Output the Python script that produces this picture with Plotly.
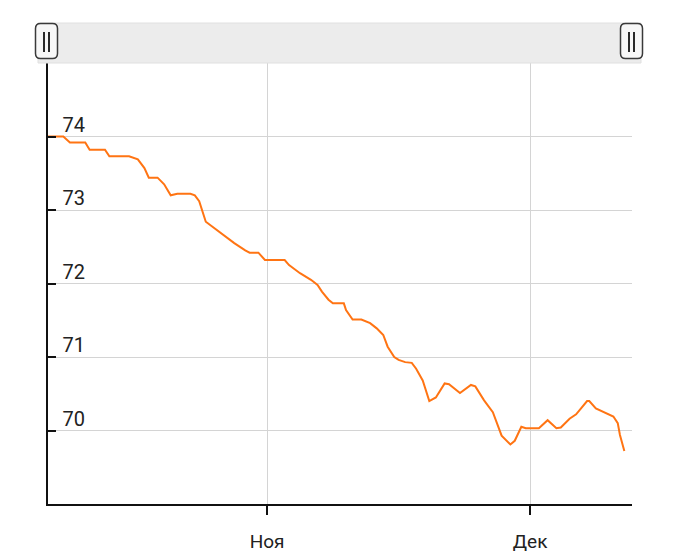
import plotly.graph_objects as go

dates = [
    "2021-10-07 00:00", "2021-10-08 18:00", "2021-10-09 12:00", "2021-10-11 06:00",
    "2021-10-11 18:00", "2021-10-13 12:00", "2021-10-14 00:00", "2021-10-16 06:00",
    "2021-10-17 06:00", "2021-10-18 00:00", "2021-10-18 12:00", "2021-10-19 12:00",
    "2021-10-20 06:00", "2021-10-21 00:00", "2021-10-21 18:00", "2021-10-23 06:00",
    "2021-10-23 18:00", "2021-10-24 06:00", "2021-10-25 00:00", "2021-10-26 00:00",
    "2021-10-27 06:00", "2021-10-28 06:00", "2021-10-29 12:00", "2021-10-30 00:00",
    "2021-10-31 00:00", "2021-10-31 18:00", "2021-11-03 00:00", "2021-11-03 12:00",
    "2021-11-04 18:00", "2021-11-06 00:00", "2021-11-06 18:00", "2021-11-07 06:00",
    "2021-11-08 00:00", "2021-11-08 12:00", "2021-11-09 18:00", "2021-11-10 00:00",
    "2021-11-10 18:00", "2021-11-11 18:00", "2021-11-12 18:00", "2021-11-13 12:00",
    "2021-11-14 06:00", "2021-11-14 18:00", "2021-11-15 12:00", "2021-11-16 00:00",
    "2021-11-16 18:00", "2021-11-17 12:00", "2021-11-18 00:00", "2021-11-18 18:00",
    "2021-11-19 12:00", "2021-11-20 06:00", "2021-11-21 06:00", "2021-11-21 18:00",
    "2021-11-23 00:00", "2021-11-24 06:00", "2021-11-24 18:00", "2021-11-25 18:00",
    "2021-11-26 18:00", "2021-11-27 18:00", "2021-11-28 18:00", "2021-11-29 06:00",
    "2021-11-30 00:00", "2021-11-30 12:00", "2021-12-02 00:00", "2021-12-03 00:00",
    "2021-12-04 00:00", "2021-12-04 12:00", "2021-12-05 12:00", "2021-12-06 06:00",
    "2021-12-07 12:00", "2021-12-07 18:00", "2021-12-08 12:00", "2021-12-10 00:00",
    "2021-12-10 12:00", "2021-12-11 00:00", "2021-12-11 06:00", "2021-12-11 18:00",
]
values = [
    74.00, 74.00, 73.92, 73.92,
    73.82, 73.82, 73.73, 73.73,
    73.69, 73.57, 73.44, 73.44,
    73.35, 73.20, 73.22, 73.22,
    73.20, 73.12, 72.84, 72.75,
    72.64, 72.55, 72.45, 72.42,
    72.42, 72.32, 72.32, 72.25,
    72.14, 72.05, 71.98, 71.89,
    71.78, 71.73, 71.73, 71.64,
    71.51, 71.51, 71.46, 71.39,
    71.30, 71.14, 71.00, 70.96,
    70.93, 70.92, 70.84, 70.68,
    70.40, 70.45, 70.64, 70.63,
    70.51, 70.62, 70.60, 70.41,
    70.25, 69.93, 69.81, 69.86,
    70.05, 70.03, 70.03, 70.14,
    70.03, 70.04, 70.16, 70.22,
    70.40, 70.40, 70.30, 70.22,
    70.19, 70.10, 69.94, 69.72,
]

y_tickvals = [69, 70, 71, 72, 73, 74, 75]
y_ticktext = ["", "70", "71", "72", "73", "74", ""]
x_tickvals = ["2021-11-01", "2021-12-01"]
x_ticktext = ["Ноя", "Дек"]
x_range = ["2021-10-07 00:00", "2021-12-12 15:00"]
y_range = [69, 75]

# the page has an 8px body margin; figure is sized so the plot lands
# at page pixels x 48..632, y 63..504
OFF = 8
W, H = 680 - OFF, 553 - OFF
L, T = 48 - OFF, 63 - OFF
R, B = W - (632 - OFF), H - (504 - OFF)
PW, PH = W - L - R, H - T - B


def px(x):
    return (x - OFF - L) / PW


def py(y):
    return (H - B - (y - OFF)) / PH


def rounded_rect(x0, y0, x1, y1, r):
    pts = [
        ("M", x0 + r, y0), ("L", x1 - r, y0), ("Q", x1, y0, x1, y0 + r),
        ("L", x1, y1 - r), ("Q", x1, y1, x1 - r, y1), ("L", x0 + r, y1),
        ("Q", x0, y1, x0, y1 - r), ("L", x0, y0 + r), ("Q", x0, y0, x0 + r, y0),
    ]
    s = ""
    for p in pts:
        if p[0] == "Q":
            s += f"Q{px(p[1]):.5f},{py(p[2]):.5f} {px(p[3]):.5f},{py(p[4]):.5f} "
        else:
            s += f"{p[0]}{px(p[1]):.5f},{py(p[2]):.5f} "
    return s + "Z"


fig = go.Figure()
fig.add_trace(go.Scatter(
    x=dates, y=values, mode="lines",
    line=dict(color="#ff7413", width=2),
    hoverinfo="x+y", showlegend=False,
))

shapes = []
shapes.append(dict(type="rect", xref="paper", yref="paper",
                   x0=px(38), x1=px(641), y0=py(63), y1=py(23),
                   fillcolor="#ececec", line=dict(color="#e0e0e0", width=1), layer="above"))
for gx0 in (35.5, 620.5):
    gx1 = gx0 + 22
    shapes.append(dict(type="path", xref="paper", yref="paper",
                       path=rounded_rect(gx0, 23.5, gx1, 58.5, 5),
                       fillcolor="#f7f7f7", line=dict(color="#3a3a3a", width=1.5), layer="above"))
    for bx in (gx0 + 8.5, gx0 + 13.5):
        shapes.append(dict(type="line", xref="paper", yref="paper",
                           x0=px(bx), x1=px(bx), y0=py(32), y1=py(52),
                           line=dict(color="#2a2a2a", width=2), layer="above"))

fig.update_layout(
    width=W, height=H,
    margin=dict(l=L, r=R, t=T, b=B, autoexpand=False),
    paper_bgcolor="white", plot_bgcolor="white",
    font=dict(family="Roboto", color="#222222"),
    shapes=shapes,
    xaxis=dict(
        type="date", range=x_range, automargin=False,
        tickvals=x_tickvals, ticktext=x_ticktext,
        tickfont=dict(size=19, color="#222222"),
        ticklabelstandoff=10,
        showgrid=True, gridcolor="#d4d4d4", gridwidth=1,
        showline=True, linecolor="#111111", linewidth=1.5,
        ticks="outside", ticklen=9, tickcolor="#111111", tickwidth=1.5,
        zeroline=False, fixedrange=True,
    ),
    yaxis=dict(
        range=y_range, automargin=False,
        tickvals=y_tickvals, ticktext=y_ticktext,
        tickfont=dict(size=20, color="#222222"),
        ticklabelposition="inside top",
        ticklabelstandoff=15,
        ticklabelshift=3,
        showgrid=True, gridcolor="#d4d4d4", gridwidth=1,
        showline=True, linecolor="#111111", linewidth=1.5,
        ticks="inside", ticklen=8, tickcolor="#111111", tickwidth=1.5,
        zeroline=False, fixedrange=True,
    ),
)

fig.write_html("out.html")
